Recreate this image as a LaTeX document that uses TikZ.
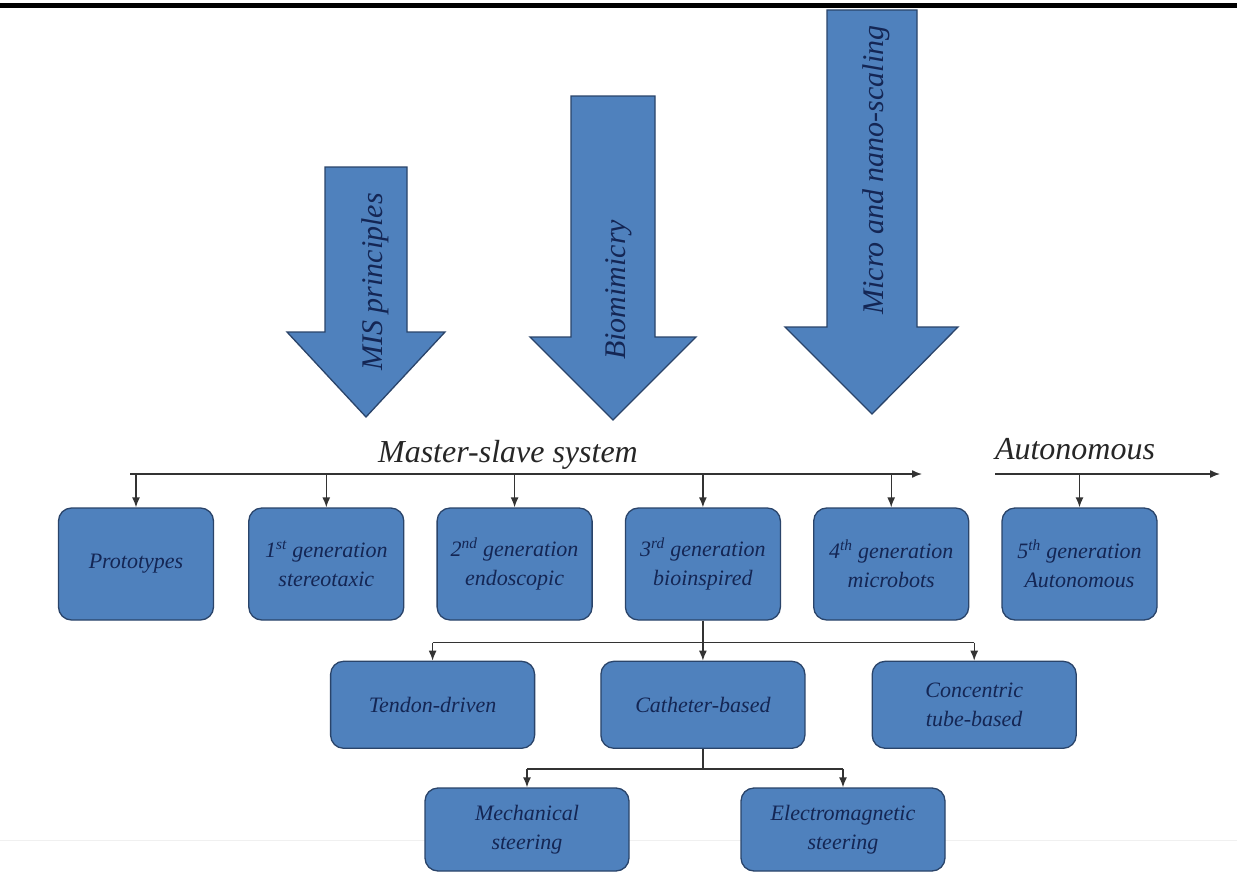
\documentclass[tikz,border=0pt]{standalone}
\usepackage{fontspec}
\setmainfont{LiberationSerif}[Extension=.ttf, UprightFont=*-Regular, ItalicFont=*-Italic,
	BoldFont=*-Bold, BoldItalicFont=*-BoldItalic]
\usetikzlibrary{positioning,arrows.meta}
\definecolor{boxblue}{RGB}{79,129,189}
\definecolor{boxedge}{RGB}{42,68,106}
\definecolor{inktext}{RGB}{20,38,84}
\tikzset{
	genbox/.style={draw=boxedge, fill=boxblue, line width=1.3pt, rounded corners=13pt,
		minimum width=155pt, minimum height=112pt, inner sep=2pt, align=center,
		text=inktext, font=\fontsize{22}{29}\selectfont\itshape},
	subbox/.style={genbox, minimum width=204pt, minimum height=87pt},
	lowbox/.style={genbox, minimum width=204pt, minimum height=83pt},
	tline/.style={draw=black!80, line width=1.4pt},
	drop/.style={tline, -{Latex[length=10pt,width=8pt]}},
	bigarrow/.style={draw=boxedge, fill=boxblue, line width=1.3pt, line join=miter},
	arrowtext/.style={rotate=90, text=inktext, font=\fontsize{30}{36}\selectfont\itshape},
	lbl/.style={text=black!85, font=\fontsize{32}{36}\selectfont\itshape},
}
\begin{document}
\begin{tikzpicture}[x=1pt,y=-1pt]
	\path[fill=white, use as bounding box] (0,0) rectangle (1237,875);
	\fill[black] (0,3.5) rectangle (1237,8);
	\draw[gray!12, line width=1pt] (0,840) -- (1237,840);
	%% drivers
	\draw[bigarrow] (325,167) -- (407,167) -- (407,332) -- (445,332) -- (366,417)
		-- (287,332) -- (325,332) -- cycle;
	\node[arrowtext] (mis) at (375,282) {MIS principles};
	\draw[bigarrow] (571,96) -- (655,96) -- (655,337) -- (696,337) -- (613,420)
		-- (530,337) -- (571,337) -- cycle;
	\node[arrowtext] (bio) at (619,290) {Biomimicry};
	\draw[bigarrow] (827,10) -- (917,10) -- (917,327) -- (958,327) -- (872,414)
		-- (785,327) -- (827,327) -- cycle;
	\node[arrowtext] (nano) at (876,170) {Micro and nano-scaling};
	%% generations
	\node[genbox] (proto) at (136,564) {Prototypes};
	\node[genbox, right=34pt of proto] (gen1) {1\textsuperscript{st} generation\\stereotaxic};
	\node[genbox, right=32pt of gen1] (gen2) {2\textsuperscript{nd} generation\\endoscopic};
	\node[genbox, right=32pt of gen2] (gen3) {3\textsuperscript{rd} generation\\bioinspired};
	\node[genbox, right=32pt of gen3] (gen4) {4\textsuperscript{th} generation\\microbots};
	\node[genbox, right=32pt of gen4] (gen5) {5\textsuperscript{th} generation\\Autonomous};
	%% bioinspired branches
	\node[subbox, below=40pt of gen3] (cath) {Catheter-based};
	\node[subbox, left=65pt of cath] (tend) {Tendon-driven};
	\node[subbox, right=66pt of cath] (conc) {Concentric\\tube-based};
	\node[lowbox] (mech) at (527,829.5) {Mechanical\\steering};
	\node[lowbox] (elec) at (843,829.5) {Electromagnetic\\steering};
	%% time lines
	\coordinate (ms0) at (130,474);
	\coordinate (ms1) at (922,474);
	\coordinate (au0) at (995,474);
	\coordinate (au1) at (1220,474);
	\node[lbl] (mslabel) at (508,455) {Master-slave system};
	\node[lbl] (autlabel) at (1075,449) {Autonomous};
	\draw[drop] (ms0) -- (ms1);
	\draw[drop] (au0) -- (au1);
	\foreach \g in {proto,gen1,gen2,gen3,gen4}
		\draw[drop] (\g.north |- ms0) -- (\g.north);
	\draw[drop] (gen5.north |- au0) -- (gen5.north);
	% tree below 3rd generation
	\coordinate[below=22pt of gen3.south] (br2);
	\draw[tline] (gen3.south) -- (br2);
	\draw[tline] (tend.north |- br2) -- (conc.north |- br2);
	\foreach \g in {tend,cath,conc}
		\draw[drop] (\g.north |- br2) -- (\g.north);
	\coordinate[below=20pt of cath.south] (br3);
	\draw[tline] (cath.south) -- (br3);
	\draw[tline] (mech.north |- br3) -- (elec.north |- br3);
	\foreach \g in {mech,elec}
		\draw[drop] (\g.north |- br3) -- (\g.north);
\end{tikzpicture}
\end{document}
